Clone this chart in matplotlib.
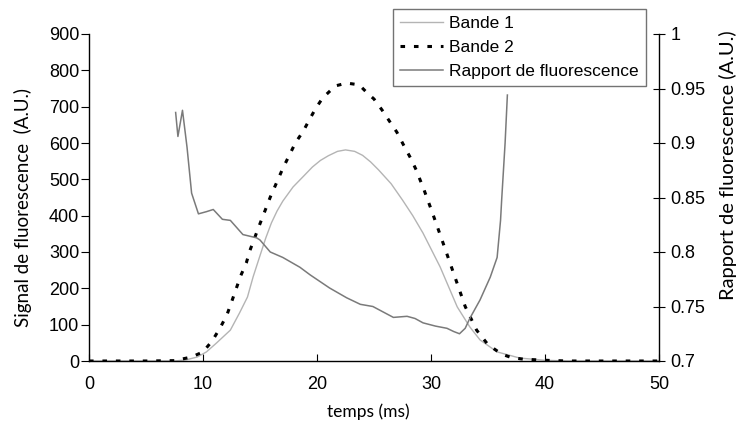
import matplotlib
matplotlib.use('Agg')
import matplotlib.pyplot as plt

# Bande 2 (dashed black)
t_b2 = [0, 5, 7.5, 8.1, 9.0, 10.0, 10.8, 11.5, 12.1, 12.5, 12.9, 13.3, 13.8, 14.1,
        15.0, 15.9, 17.0, 18.1, 18.8, 19.4, 19.9, 20.5, 21.6, 22.6, 23.7, 24.4, 25.0,
        25.7, 26.4, 27.0, 27.6, 28.2, 28.7, 29.4, 30.1, 31.0, 32.0, 32.5, 33.0, 34.0,
        35.0, 36.2, 37.0, 38.1, 40.0, 42.0, 50]
v_b2 = [0, 0, 1, 5, 11, 25, 55, 91, 127, 162, 198, 234, 270, 303,
        378, 451, 530, 600, 633, 668, 696, 724, 757, 765, 760, 738, 721,
        691, 658, 630, 594, 559, 526, 470, 410, 330, 240, 195, 150, 85,
        45, 19, 10, 5, 2, 0, 0]

# Bande 1 (light grey)
t_b1 = [0, 7.5, 8.5, 9.5, 10.3, 11.2, 12.4, 13.2, 13.9, 14.4, 15.0, 15.5, 16.0, 16.5,
        17.0, 17.9, 18.8, 19.6, 20.3, 21.0, 21.8, 22.5, 23.3, 24.0, 24.7, 25.4, 26.5,
        27.5, 28.4, 29.3, 30.8, 32.3, 33.4, 34.3, 35.8, 37.8, 40.0, 42, 50]
v_b1 = [0, 0, 3, 11, 25, 50, 85, 132, 176, 232, 290, 338, 380, 413,
        440, 479, 508, 534, 552, 565, 577, 581, 577, 566, 548, 526, 488,
        443, 400, 352, 259, 149, 94, 58, 25, 8, 2, 0, 0]

# Rapport de fluorescence (right axis)
t_r = [7.6, 7.8, 8.2, 8.6, 9.0, 9.6, 10.3, 10.9, 11.7, 12.4, 13.5, 14.7, 15.0, 15.9,
       17.0, 18.5, 19.4, 21.1, 22.6, 23.8, 24.9, 25.8, 26.7, 27.9, 28.6, 29.3, 30.4,
       31.4, 32.0, 32.5, 33.0, 33.4, 34.3, 35.2, 35.8, 36.1, 36.2, 36.5, 36.7]
r = [0.928, 0.906, 0.930, 0.896, 0.854, 0.835, 0.837, 0.839, 0.830, 0.829, 0.816, 0.813,
     0.811, 0.800, 0.795, 0.786, 0.779, 0.767, 0.758, 0.752, 0.750, 0.745, 0.740, 0.741,
     0.739, 0.735, 0.732, 0.730, 0.727, 0.725, 0.730, 0.739, 0.756, 0.777, 0.795, 0.829,
     0.848, 0.900, 0.944]

tick_font = 'Liberation Sans'
label_font = 'Lato'

fig = plt.figure(figsize=(7.44, 4.21), dpi=100)
ax = fig.add_axes([89/744, 1-361/421, 570/744, 327/421])
ax2 = ax.twinx()

l1, = ax.plot(t_b1, v_b1, color='#b4b4b4', lw=1.0, label='Bande 1')
l2, = ax.plot(t_b2, v_b2, color='black', lw=2.2, linestyle=(0, (1.5, 2.9)), label='Bande 2')
l3, = ax2.plot(t_r, r, color='#7a7a7a', lw=1.1, label='Rapport de fluorescence')

ax.set_xlim(0, 50)
ax.set_ylim(0, 900)
ax2.set_ylim(0.7, 1.0)
ax.set_xticks([0, 10, 20, 30, 40, 50])
ax.set_yticks(range(0, 901, 100))
ax2.set_yticks([0.7, 0.75, 0.8, 0.85, 0.9, 0.95, 1.0])
ax2.set_yticklabels(['0.7', '0.75', '0.8', '0.85', '0.9', '0.95', '1'])

for a in (ax, ax2):
    a.spines['top'].set_visible(False)
    for s in a.spines.values():
        s.set_linewidth(1.0)
ax.spines['right'].set_visible(False)
ax2.spines['left'].set_visible(False)
ax2.spines['bottom'].set_visible(False)

ax.tick_params(axis='y', direction='out', length=6, labelsize=13, pad=1)
ax.tick_params(axis='x', direction='in', length=5, labelsize=13, pad=11)
ax2.tick_params(axis='y', direction='inout', length=8.5, labelsize=13, pad=4)
for lab in ax.get_xticklabels() + ax.get_yticklabels() + ax2.get_yticklabels():
    lab.set_fontfamily(tick_font)

ax.set_xlabel('temps (ms)', fontsize=12.5, family=label_font)
ax.xaxis.set_label_coords(0.49, -0.13)
ax.set_ylabel('Signal de fluorescence  (A.U.)', fontsize=13.5, family=label_font)
ax.yaxis.set_label_coords(-0.10, 0.47)
ax2.set_ylabel('Rapport de fluorescence (A.U.)', fontsize=14.5, family=label_font)
ax2.yaxis.set_label_coords(1.105, 0.6)

leg = fig.legend([l1, l2, l3], ['Bande 1', 'Bande 2', 'Rapport de fluorescence'],
                 loc='upper left', bbox_to_anchor=(393/744, 1-9/421),
                 frameon=True, fancybox=False, borderaxespad=0,
                 prop={'family': tick_font, 'size': 12.5},
                 handlelength=2.5, handletextpad=0.35, labelspacing=0.5,
                 borderpad=0.4)
leg.get_frame().set_edgecolor('#505050')
leg.get_frame().set_linewidth(1.0)

fig.savefig('out.png', dpi=100)
